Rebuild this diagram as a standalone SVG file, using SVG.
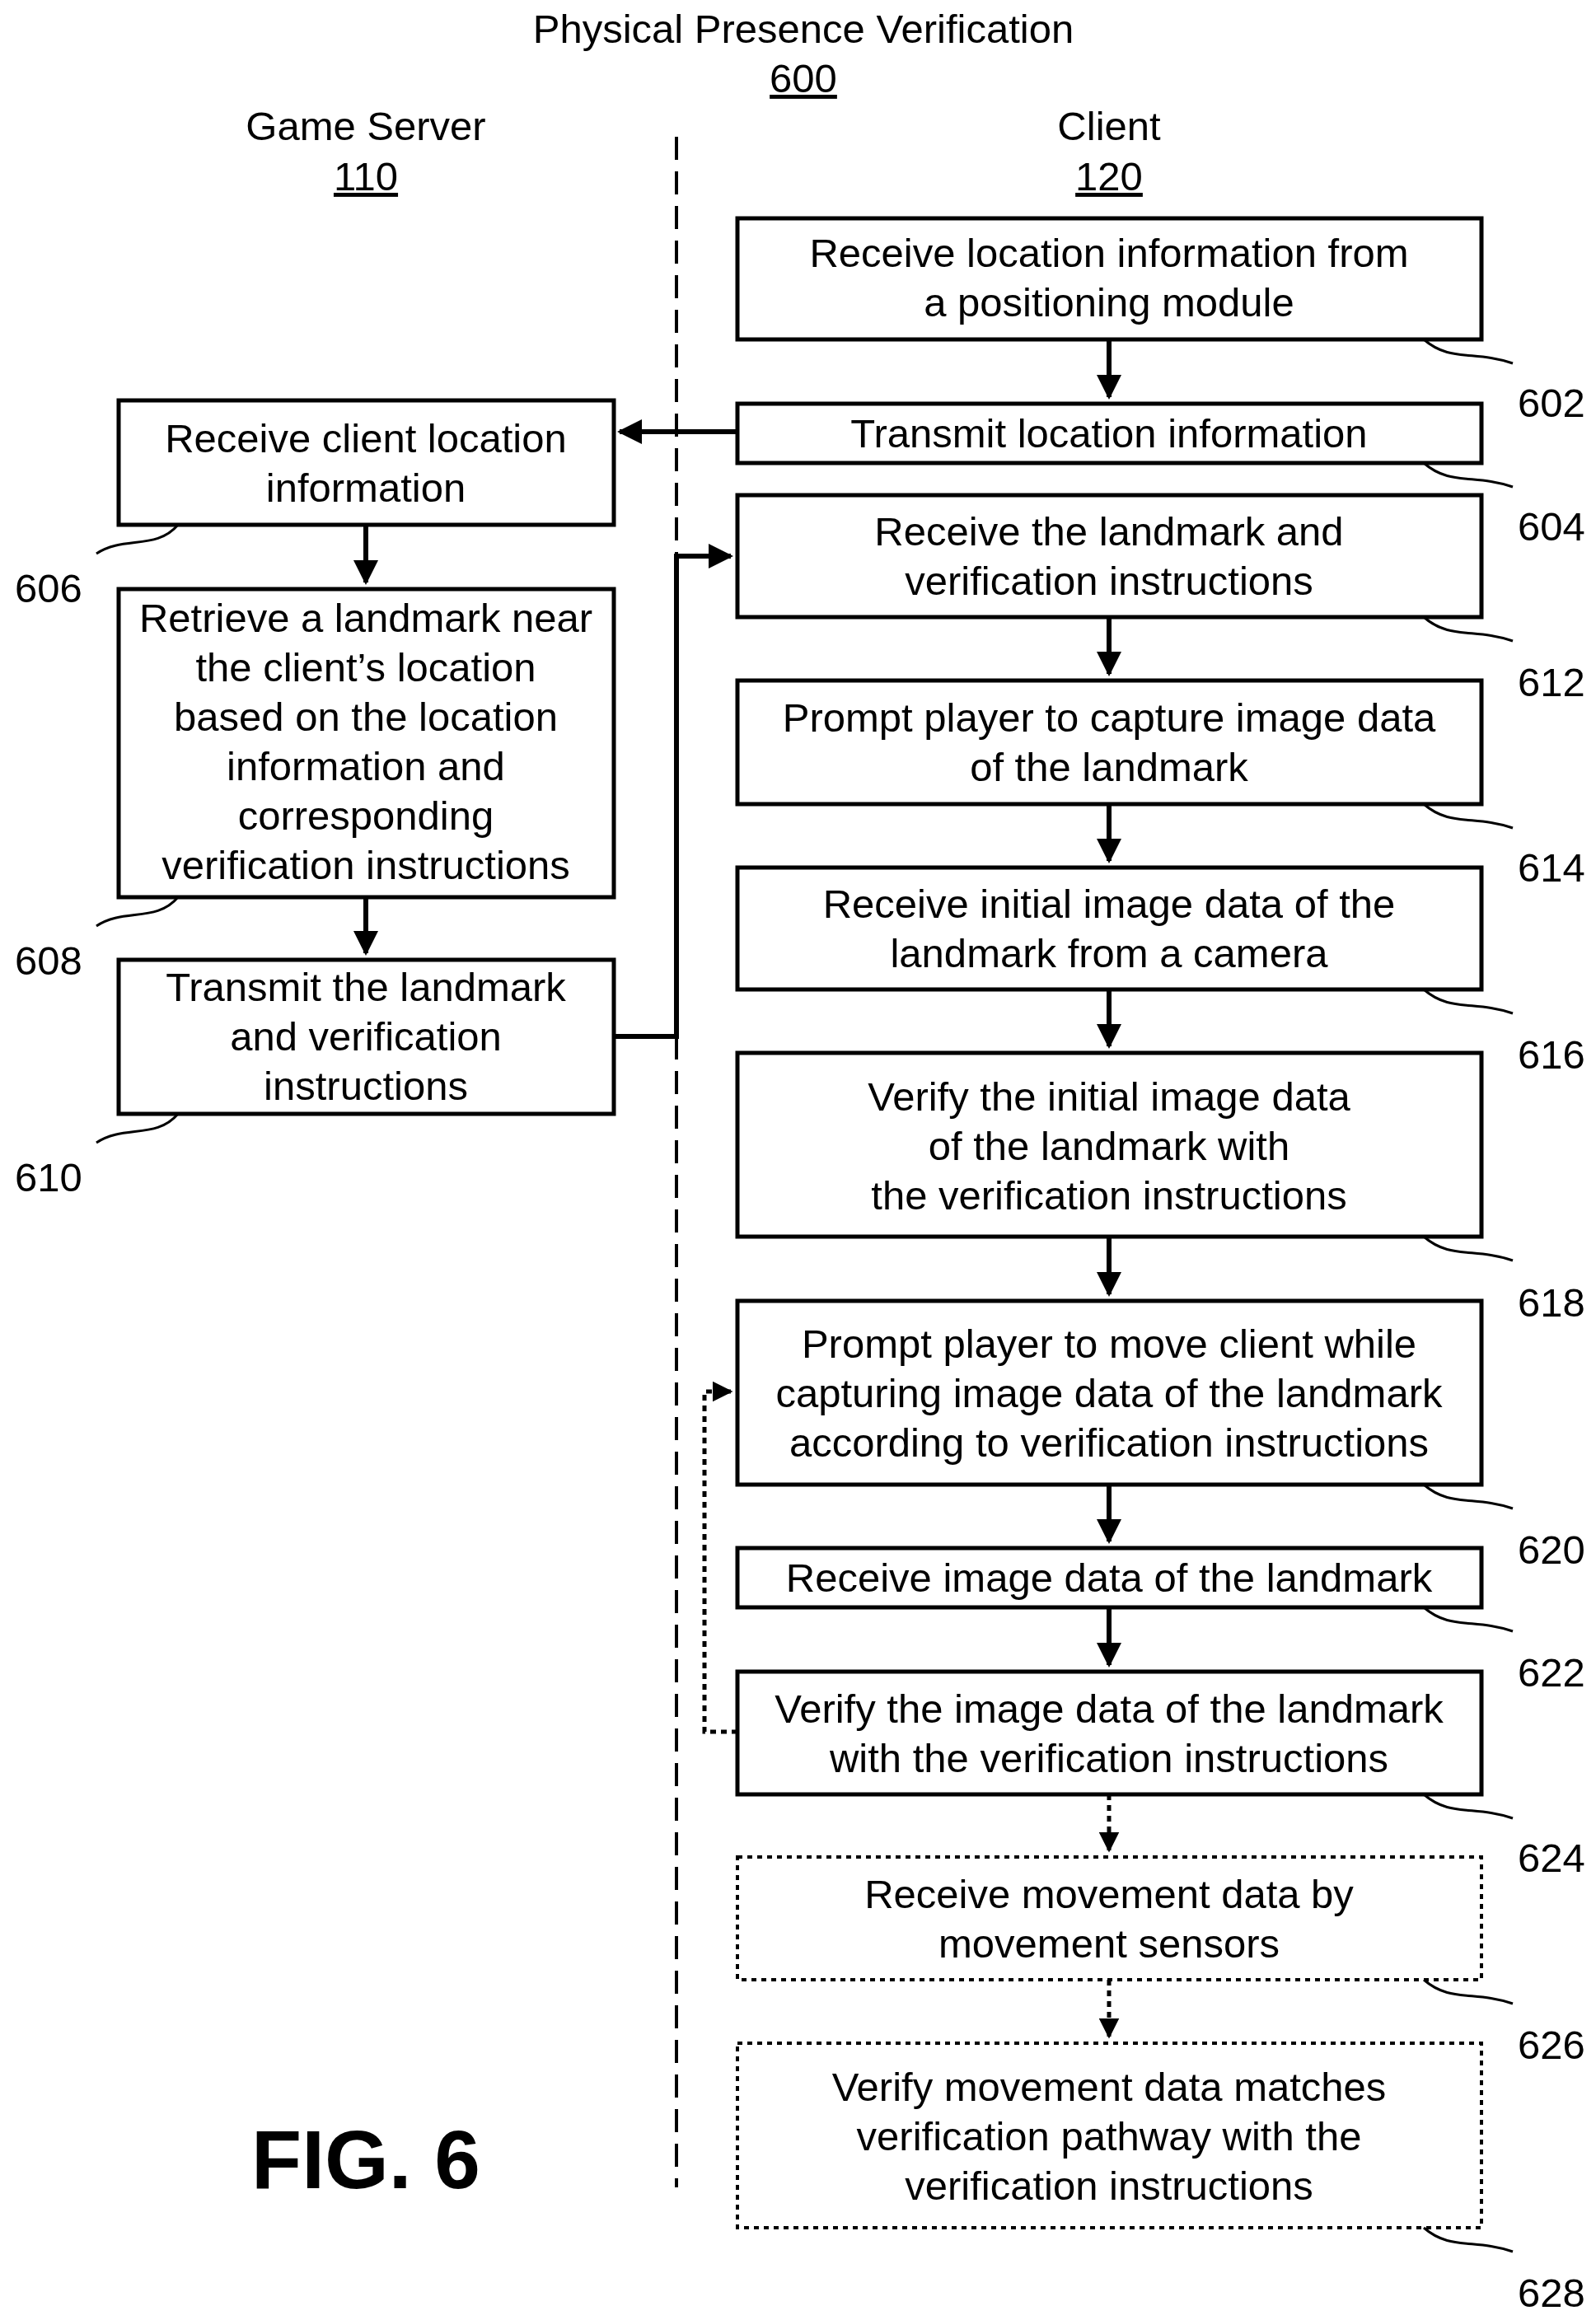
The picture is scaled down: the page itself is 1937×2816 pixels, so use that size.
<svg xmlns="http://www.w3.org/2000/svg" width="1937" height="2816" viewBox="0 0 1937 2816">
<style>
text{font-family:"Liberation Sans",Arial,sans-serif;font-size:49px;fill:#000;text-anchor:middle}
.b{fill:#fff;stroke:#000;stroke-width:5}
.d{fill:#fff;stroke:#000;stroke-width:4;stroke-dasharray:6 6}
.l{fill:none;stroke:#000;stroke-width:3}
.c{fill:none;stroke:#000;stroke-width:6}
.cd{fill:none;stroke:#000;stroke-width:5;stroke-dasharray:7 6}
</style>
<defs><marker id="a" viewBox="0 0 10 10" refX="9" refY="5" markerWidth="5" markerHeight="5" orient="auto"><path d="M0,0L10,5L0,10z"/></marker></defs>
<g id="title"><text x="975" y="52">Physical Presence Verification</text><text x="975" y="112" text-decoration="underline">600</text>
<text x="444" y="170">Game Server</text><text x="444" y="231" text-decoration="underline">110</text>
<text x="1346" y="170">Client</text><text x="1346" y="231" text-decoration="underline">120</text></g>
<line x1="821" y1="166" x2="821" y2="2655" stroke="#000" stroke-width="4" stroke-dasharray="28 14"/>
<g id="connectors">
<path class="c" d="M1346 412V482" marker-end="url(#a)"/>
<path class="c" d="M895 524H752" marker-end="url(#a)"/>
<path class="c" d="M444 637V707" marker-end="url(#a)"/>
<path class="c" d="M444 1089V1157" marker-end="url(#a)"/>
<path class="c" d="M745 1258H821V675H887" marker-end="url(#a)"/>
<path class="c" d="M1346 749V818" marker-end="url(#a)"/>
<path class="c" d="M1346 976V1045" marker-end="url(#a)"/>
<path class="c" d="M1346 1201V1270" marker-end="url(#a)"/>
<path class="c" d="M1346 1501V1571" marker-end="url(#a)"/>
<path class="c" d="M1346 1802V1871" marker-end="url(#a)"/>
<path class="c" d="M1346 1951V2021" marker-end="url(#a)"/>
<path class="cd" d="M895 2102H855V1689H887" marker-end="url(#a)"/>
<path class="cd" d="M1346 2178V2246" marker-end="url(#a)"/>
<path class="cd" d="M1346 2403V2472" marker-end="url(#a)"/>
</g>
<g id="n602"><rect class="b" x="895" y="265" width="903" height="147"/><text x="1346" y="324">Receive location information from</text><text x="1346" y="384">a positioning module</text><path class="l" d="M1728 412C1760 440 1790 425 1836 441"/><text x="1883" y="506">602</text></g>
<g id="n604"><rect class="b" x="895" y="490" width="903" height="72"/><text x="1346" y="543">Transmit location information</text><path class="l" d="M1728 562C1760 590 1790 575 1836 591"/><text x="1883" y="656">604</text></g>
<g id="n612"><rect class="b" x="895" y="601" width="903" height="148"/><text x="1346" y="662">Receive the landmark and</text><text x="1346" y="722">verification instructions</text><path class="l" d="M1728 749C1760 777 1790 762 1836 778"/><text x="1883" y="845">612</text></g>
<g id="n614"><rect class="b" x="895" y="826" width="903" height="150"/><text x="1346" y="888">Prompt player to capture image data</text><text x="1346" y="948">of the landmark</text><path class="l" d="M1728 976C1760 1004 1790 989 1836 1005"/><text x="1883" y="1070">614</text></g>
<g id="n616"><rect class="b" x="895" y="1053" width="903" height="148"/><text x="1346" y="1114">Receive initial image data of the</text><text x="1346" y="1174">landmark from a camera</text><path class="l" d="M1728 1201C1760 1229 1790 1214 1836 1230"/><text x="1883" y="1297">616</text></g>
<g id="n618"><rect class="b" x="895" y="1278" width="903" height="223"/><text x="1346" y="1348">Verify the initial image data</text><text x="1346" y="1408">of the landmark with</text><text x="1346" y="1468">the verification instructions</text><path class="l" d="M1728 1501C1760 1529 1790 1514 1836 1530"/><text x="1883" y="1598">618</text></g>
<g id="n620"><rect class="b" x="895" y="1579" width="903" height="223"/><text x="1346" y="1648">Prompt player to move client while</text><text x="1346" y="1708">capturing image data of the landmark</text><text x="1346" y="1768">according to verification instructions</text><path class="l" d="M1728 1802C1760 1830 1790 1815 1836 1831"/><text x="1883" y="1898">620</text></g>
<g id="n622"><rect class="b" x="895" y="1879" width="903" height="72"/><text x="1346" y="1932">Receive image data of the landmark</text><path class="l" d="M1728 1951C1760 1979 1790 1964 1836 1980"/><text x="1883" y="2047">622</text></g>
<g id="n624"><rect class="b" x="895" y="2029" width="903" height="149"/><text x="1346" y="2091">Verify the image data of the landmark</text><text x="1346" y="2151">with the verification instructions</text><path class="l" d="M1728 2178C1760 2206 1790 2191 1836 2207"/><text x="1883" y="2272">624</text></g>
<g id="n626"><rect class="d" x="895" y="2254" width="903" height="149"/><text x="1346" y="2316">Receive movement data by</text><text x="1346" y="2376">movement sensors</text><path class="l" d="M1728 2403C1760 2431 1790 2416 1836 2432"/><text x="1883" y="2499">626</text></g>
<g id="n628"><rect class="d" x="895" y="2480" width="903" height="224"/><text x="1346" y="2550">Verify movement data matches</text><text x="1346" y="2610">verification pathway with the</text><text x="1346" y="2670">verification instructions</text><path class="l" d="M1728 2704C1760 2732 1790 2717 1836 2733"/><text x="1883" y="2800">628</text></g>
<g id="n606"><rect class="b" x="144" y="486" width="601" height="151"/><text x="444" y="549">Receive client location</text><text x="444" y="609">information</text><path class="l" d="M216 637C190 668 150 650 117 672"/><text x="59" y="731">606</text></g>
<g id="n608"><rect class="b" x="144" y="715" width="601" height="374"/><text x="444" y="767">Retrieve a landmark near</text><text x="444" y="827">the client’s location</text><text x="444" y="887">based on the location</text><text x="444" y="947">information and</text><text x="444" y="1007">corresponding</text><text x="444" y="1067">verification instructions</text><path class="l" d="M216 1089C190 1120 150 1102 117 1124"/><text x="59" y="1183">608</text></g>
<g id="n610"><rect class="b" x="144" y="1165" width="601" height="187"/><text x="444" y="1215">Transmit the landmark</text><text x="444" y="1275">and verification</text><text x="444" y="1335">instructions</text><path class="l" d="M216 1352C190 1383 150 1365 117 1387"/><text x="59" y="1446">610</text></g>
<text x="444" y="2656" style="font-size:100px;font-weight:bold">FIG. 6</text>
</svg>
